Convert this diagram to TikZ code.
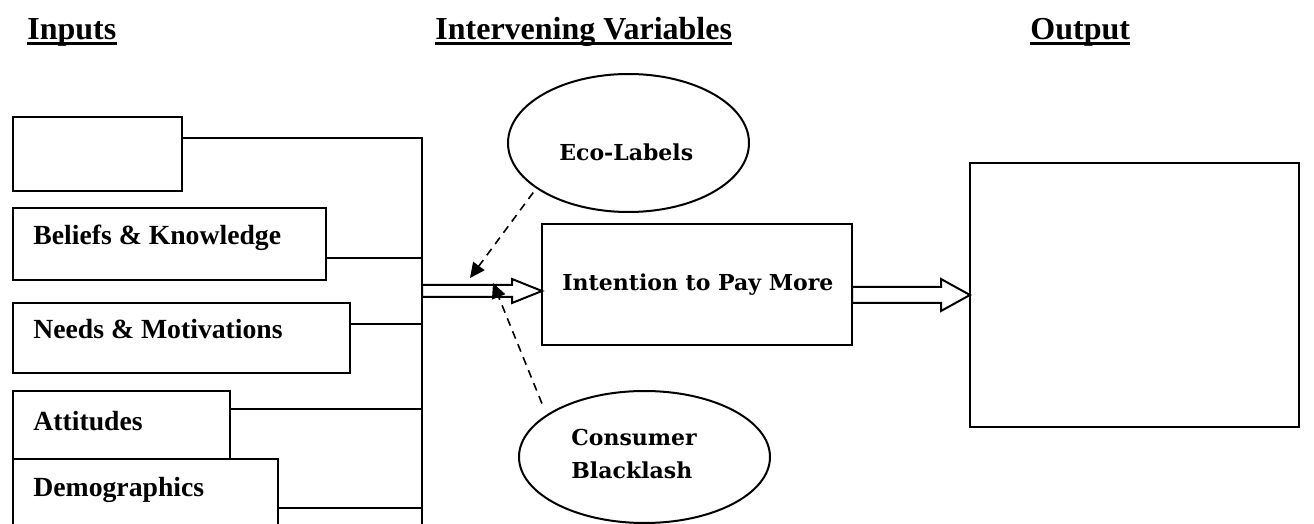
\documentclass[tikz,border=0pt]{standalone}
\usepackage{fontspec}
\setmainfont{Liberation Serif}
\newfontfamily\camfont{DejaVu Serif}
\usetikzlibrary{shapes.geometric,arrows.meta}
\tikzset{
  box/.style={draw, line width=1.1pt, fill=white, rectangle, inner sep=0pt, outer sep=0pt},
  oval/.style={draw, line width=1pt, fill=white, ellipse, inner sep=0pt, outer sep=0pt},
  boxtext/.style={anchor=base west, inner sep=0pt, font=\fontsize{13.85}{16}\selectfont\bfseries},
  camtext/.style={anchor=base west, inner sep=0pt, font=\fontsize{11}{13}\selectfont\camfont\bfseries},
  head/.style={anchor=base west, inner sep=0pt, font=\fontsize{16}{19}\selectfont\bfseries},
  headline/.style={line width=1.5pt},
  link/.style={line width=1pt},
  hollow/.style={draw, line width=1pt, fill=white, line join=miter},
  influence/.style={line width=0.8pt, dash pattern=on 4pt off 3pt, -{Triangle[length=7.5pt,width=7pt]}}
}
\begin{document}
\begin{tikzpicture}[x=0.5pt,y=-0.5pt]
\useasboundingbox (0,0) rectangle (1314,524);
\clip (0,0) rectangle (1314,524);
\fill[white] (0,0) rectangle (1314,524);

% headers
\node[head] (hin) at (27,40) {Inputs};
\node[head] (hiv) at (435,40) {Intervening Variables};
\node[head] (hout) at (1030,40) {Output};
\foreach \h in {hin,hiv,hout}
  \draw[headline] ([yshift=-1.6pt]\h.base west) -- ([yshift=-1.6pt]\h.base east);

% bus
\coordinate (bustop) at (422,138);
\coordinate (busbot) at (422,540);
\coordinate (j2) at (422,258);
\coordinate (j3) at (422,324);
\coordinate (j4) at (422,409);
\coordinate (j5) at (422,508);
\coordinate (jin) at (422,291);

% input boxes
\node[box, minimum width=84.5pt, minimum height=37pt] (b1) at (97.5,154) {};
\node[box, minimum width=156.5pt, minimum height=36pt] (b2) at (169.5,244) {};
\node[box, minimum width=168.5pt, minimum height=35pt] (b3) at (181.5,338) {};
\node[box, minimum width=108.5pt, minimum height=39.5pt] (b4) at (121.5,430.5) {};
\node[box, minimum width=132.5pt, minimum height=50.5pt] (b5) at (145.5,509.5) {};

\node[boxtext] (t2) at (33,245) {Beliefs \& Knowledge};
\node[boxtext] (t3) at (33,338) {Needs \& Motivations};
\node[boxtext] (t4) at (33,430) {Attitudes};
\node[boxtext] (t5) at (33,496) {Demographics};

\draw[link] (b1.east |- bustop) -- (bustop) -- (busbot);
\draw[link] (b2.east |- j2) -- (j2);
\draw[link] (b3.east |- j3) -- (j3);
\draw[link] (b4.east |- j4) -- (j4);
\draw[link] (b5.east |- j5) -- (j5);

% intention box
\node[box, minimum width=155pt, minimum height=60.5pt] (intent) at (697,284.5) {};
\node[camtext] (tint) at (562,291) {Intention to Pay More};

% output box
\node[box, minimum width=164.5pt, minimum height=132pt] (out) at (1134.5,295) {};

% hollow arrows
\draw[hollow] (jin) ++(0,-6) -- ++(90,0) -- ++(0,-6) -- (intent.west |- jin) -- ++(-30,12) -- ++(0,-6) -- ++(-90,0) -- cycle;
\draw[hollow] (intent.east) ++(0,2.5) -- ++(89,0) -- ++(0,-8) -- (out.west) -- ++(-29,16) -- ++(0,-8) -- ++(-89,0) -- cycle;

% ellipses
\node[oval, minimum width=120.5pt, minimum height=69pt] (eco) at (628.5,143) {};
\node[camtext] (teco) at (559,161) {Eco-Labels};
\node[oval, minimum width=125.5pt, minimum height=66pt] (cb) at (644.5,457) {};
\node[camtext] (tcb1) at (571,445) {Consumer};
\node[camtext] (tcb2) at (571,478) {Blacklash};

% dashed influences
\coordinate (tipA) at (470,278);
\coordinate (tipB) at (493,283);
\draw[influence, shorten <=3pt] (eco.206) -- (tipA);
\draw[influence, shorten <=6.5pt] (cb.157) -- (tipB);
\end{tikzpicture}
\end{document}
